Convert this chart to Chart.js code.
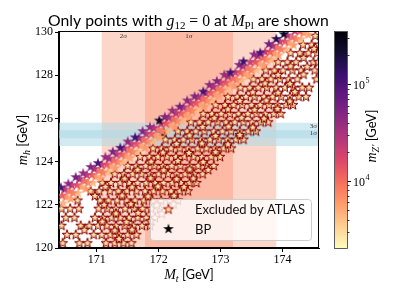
<!DOCTYPE html>
<html><head><meta charset="utf-8">
<script src="https://cdn.jsdelivr.net/npm/chart.js@4"></script>
<style>html,body{margin:0;padding:0;background:#fff;}canvas{display:block}</style>
</head><body>
<canvas id="c" width="399" height="299" style="width:399px;height:299px"></canvas>
<script>
// ---------------- data ----------------
const xTicks = [171, 172, 173, 174];
const yTicks = [120, 122, 124, 126, 128, 130];
const mtRange = [170.39, 174.59];
const mhRange = [120, 130];
const mzRange = [2030, 347000];
const cbMajor = [1e4, 1e5];
const cbMinor = [3e3,4e3,5e3,6e3,7e3,8e3,9e3,2e4,3e4,4e4,5e4,6e4,7e4,8e4,9e4,2e5,3e5];
const mtBand2s = [171.08, 173.90];
const mtBand1s = [171.78, 173.20];
const mhBand3s = [124.72, 125.80];
const mhBand1s = [125.08, 125.46];
const bpMt = [172.08];
const bpMh = [125.31];
const excludedMz = 2800;

// allowed points (coloured by m_Z'), upper strip of the band
const row1Mt = [170.42,170.54,170.66,170.78,170.90,171.02,171.14,171.26,171.38,171.50,171.62,171.74,171.86,172.01,172.10,172.22,172.34,172.46,172.58,172.72,172.82,172.94,173.06,173.16,173.30,173.37,173.54,173.64,173.78,173.90,174.02];
const row1Mh = [122.80,122.98,123.28,123.46,123.75,123.93,124.21,124.46,124.64,124.93,125.12,125.41,125.60,125.90,126.07,126.36,126.54,126.83,127.02,127.24,127.55,127.73,128.02,128.12,128.48,128.64,128.96,129.04,129.44,129.68,129.90];
const row1Mz = [1.0e5,4.5e4,6e4,4e4,5e4,9e4,4e4,5.5e4,1.0e5,4.5e4,1.1e5,5e4,4e4,2.2e5,5e4,4e4,6e4,4.5e4,5e4,1.1e5,4.5e4,5e4,4e4,1.1e5,5e4,1.2e5,4.5e4,1.0e5,6e4,1.6e5,2.4e5];
const row2Mt = [170.48,170.60,170.72,170.84,170.96,171.08,171.20,171.32,171.44,171.56,171.68,171.80,171.92,172.04,172.16,172.28,172.40,172.52,172.64,172.76,172.88,173.00,173.12,173.24,173.36,173.48,173.60,173.72,173.84,173.96,174.08,174.20];
const row2Mh = [122.71,122.90,123.19,123.38,123.66,123.85,124.14,124.33,124.61,124.80,125.09,125.28,125.56,125.75,126.04,126.23,126.51,126.70,126.99,127.18,127.46,127.65,127.94,128.13,128.41,128.60,128.89,129.08,129.36,129.55,129.84,130.05];
const row2Mz = [2.6e4,2.0e4,3.0e4,2.2e4,2.8e4,2.0e4,3.2e4,2.3e4,2.7e4,2.0e4,3.0e4,2.2e4,2.6e4,2.0e4,3.1e4,2.3e4,2.8e4,2.0e4,2.6e4,2.2e4,3.0e4,2.0e4,2.7e4,2.2e4,2.9e4,2.0e4,2.6e4,2.2e4,3.0e4,2.1e4,2.7e4,2.3e4];
const row3Mt = [170.44,170.56,170.68,170.80,170.92,171.04,171.16,171.28,171.40,171.52,171.64,171.76,171.88,172.00,172.12,172.24,172.36,172.48,172.60,172.72,172.84,172.96,173.08,173.20,173.32,173.44,173.56,173.68,173.80,173.92,174.04,174.16,174.28];
const row3Mh = [122.43,122.62,122.91,123.10,123.38,123.57,123.86,124.05,124.33,124.52,124.81,125.00,125.28,125.47,125.76,125.95,126.23,126.42,126.71,126.90,127.18,127.37,127.66,127.85,128.13,128.32,128.61,128.80,129.08,129.27,129.56,129.75,130.03];
const row3Mz = [1.2e4,9e3,1.3e4,1.0e4,1.2e4,9e3,1.3e4,1.0e4,1.2e4,9e3,1.3e4,1.0e4,1.2e4,9e3,1.3e4,1.0e4,1.2e4,9e3,1.3e4,1.0e4,1.2e4,9e3,1.3e4,1.0e4,1.2e4,9e3,1.3e4,1.0e4,1.2e4,9e3,1.3e4,1.0e4,1.2e4];
const row4Mt = [170.50,170.62,170.74,170.86,170.98,171.10,171.22,171.34,171.46,171.58,171.70,171.82,171.94,172.06,172.18,172.30,172.42,172.54,172.66,172.78,172.90,173.02,173.14,173.26,173.38,173.50,173.62,173.74,173.86,173.98,174.10,174.22,174.34];
const row4Mh = [122.35,122.54,122.83,123.02,123.30,123.49,123.78,123.97,124.25,124.44,124.73,124.92,125.20,125.39,125.68,125.87,126.15,126.34,126.63,126.82,127.10,127.29,127.58,127.77,128.05,128.24,128.53,128.72,129.00,129.19,129.48,129.67,129.95];
const row4Mz = [6e3,7.5e3,5.5e3,7e3,6e3,8e3,5.5e3,7e3,6e3,7.5e3,5.5e3,7e3,6e3,8e3,5.5e3,7e3,6e3,7.5e3,5.5e3,7e3,6e3,8e3,5.5e3,7e3,6e3,7.5e3,5.5e3,7e3,6e3,8e3,5.5e3,7e3,6e3];
const row5Mt = [170.46,170.58,170.70,170.82,170.94,171.06,171.18,171.30,171.42,171.54,171.66,171.78,171.90,172.02,172.14,172.26,172.38,172.50,172.62,172.74,172.86,172.98,173.10,173.22,173.34,173.46,173.58,173.70,173.82,173.94,174.06,174.18,174.30,174.42];
const row5Mh = [122.07,122.27,122.54,122.74,123.02,123.22,123.50,123.69,123.97,124.17,124.45,124.64,124.92,125.12,125.40,125.59,125.87,126.07,126.35,126.54,126.82,127.02,127.30,127.49,127.77,127.97,128.25,128.44,128.72,128.92,129.20,129.39,129.67,129.87];
const row5Mz = [4.5e3,5.5e3,4.2e3,6e3,4.5e3,5.5e3,4.2e3,6e3,4.5e3,5.5e3,4.2e3,6e3,4.5e3,5.5e3,4.2e3,6e3,4.5e3,5.5e3,4.2e3,6e3,4.5e3,5.5e3,4.2e3,6e3,4.5e3,5.5e3,4.2e3,6e3,4.5e3,5.5e3,4.2e3,6e3,4.5e3,5.5e3];

// excluded points, listed row by row (m_h of the row, then M_t values)
const excludedRowMh = [120.22,120.61,121.03,121.40,121.82,122.20,122.63,123.01,123.42,123.80,124.22,124.61,125.02,125.40,125.82,126.21,126.62,127.00,127.42,127.81,128.22,128.60,129.02,129.41,129.82];
const excludedRowMt = [
 [170.45,170.72,170.85,171.15,171.29,171.43,171.56],
 [170.52,170.66,170.95,171.08,171.22,171.36,171.50,171.64],
 [170.43,170.74,170.88,171.02,171.16,171.31,171.45,171.59,171.73,171.86],
 [170.50,170.64,170.97,171.10,171.24,171.38,171.52,171.66,171.80,171.94],
 [170.43,170.57,170.71,171.03,171.17,171.31,171.46,171.60,171.74,171.88,172.02,172.15],
 [170.69,171.05,171.19,171.33,171.48,171.62,171.76,171.90,172.04,172.18,172.31],
 [170.90,171.04,171.21,171.35,171.49,171.64,171.78,171.92,172.06,172.20,172.34,172.47],
 [171.09,171.23,171.38,171.52,171.66,171.80,171.94,172.08,172.22,172.36,172.50,172.61],
 [171.29,171.44,171.58,171.72,171.86,172.00,172.15,172.29,172.43,172.57,172.71],
 [171.50,171.64,171.79,171.93,172.07,172.21,172.35,172.50,172.64,172.78,172.89],
 [171.70,171.85,171.99,172.13,172.28,172.42,172.56,172.70,172.85,172.99],
 [171.91,172.05,172.20,172.34,172.48,172.63,172.77,172.91,173.05,173.17],
 [172.11,172.26,172.40,172.54,172.69,172.83,172.97,173.11,173.25,173.37],
 [172.31,172.46,172.60,172.74,172.89,173.03,173.17,173.31,173.45,173.57],
 [172.52,172.66,172.80,172.95,173.09,173.23,173.37,173.51,173.65,173.77],
 [172.72,172.86,173.01,173.15,173.29,173.44,173.58,173.72,173.86,173.97],
 [172.92,173.07,173.21,173.35,173.50,173.64,173.78,173.92,174.06,174.17],
 [173.12,173.27,173.41,173.55,173.70,173.84,173.98,174.12,174.26,174.38],
 [173.32,173.47,173.61,173.75,173.90,174.04,174.18,174.32,174.43],
 [173.53,173.67,173.81,173.96,174.10,174.24,174.55],
 [173.73,173.87,174.01,174.16,174.30,174.52],
 [173.93,174.08,174.22,174.50,174.58],
 [174.13,174.28,174.42,174.56],
 [174.33,174.47,174.59],
 [174.53]
];
// further excluded points lying between the rows above
const excludedExtraMt = [171.36, 170.80,171.29,171.57, 171.09,171.48,171.87, 171.31,171.67,172.05, 171.12,171.55,171.97,172.24, 170.97,171.41,171.83,172.25, 171.14,171.57,171.99,172.41, 171.45,171.87,172.29,172.56, 171.66,172.08,172.50,172.80, 171.88,172.31,172.72, 172.07,172.49,172.92, 172.29,172.70,173.12, 172.50,172.92,173.31, 172.71,173.13,173.52, 172.90,173.34,173.70, 173.12,173.55,173.92, 173.31,173.74,174.12, 173.52,173.93,174.20, 173.72,174.12, 173.93,174.34, 174.13,174.40, 174.34, 174.51];
const excludedExtraMh = [120.42, 120.83,120.81,120.85, 121.22,121.20,121.24, 121.60,121.62,121.58, 122.00,122.03,121.98,122.02, 122.41,122.43,122.39,122.42, 122.83,122.81,122.85,122.82, 123.21,123.23,123.19,123.22, 123.62,123.60,123.64,123.61, 124.00,124.03,123.98, 124.42,124.40,124.44, 124.82,124.84,124.80, 125.21,125.19,125.23, 125.60,125.62,125.58, 126.01,126.03,125.99, 126.42,126.40,126.44, 126.81,126.83,126.79, 127.21,127.19,127.23, 127.62,127.60, 128.01,128.03, 128.41,128.39, 128.80, 129.22];

// ---------------- helpers ----------------
const magmaStops = [[0,0,4],[20,14,54],[59,15,112],[100,26,128],[140,41,129],[183,55,121],[222,73,104],[247,112,92],[254,159,109],[254,207,146],[252,253,191]];
function magma(u){
  u = Math.max(0, Math.min(1, u));
  const f = u*10, i = Math.min(9, Math.floor(f)), t = f - i;
  const a = magmaStops[i], b = magmaStops[i+1];
  return 'rgb(' + [0,1,2].map(k => Math.round(a[k] + (b[k]-a[k])*t)).join(',') + ')';
}
const lmin = Math.log10(mzRange[0]), lmax = Math.log10(mzRange[1]);
function mzColor(m){ return magma(1 - (Math.log10(m) - lmin)/(lmax - lmin)); }

const starCache = {};
function star(r, fill, stroke, lw){
  const key = [r, fill, stroke, lw].join('|');
  if (starCache[key]) return starCache[key];
  const s = Math.ceil(2*r + (lw||0) + 2);
  const c = document.createElement('canvas'); c.width = s; c.height = s;
  const g = c.getContext('2d');
  g.beginPath();
  for (let i = 0; i < 10; i++){
    const rr = (i % 2) ? r*0.381966 : r;
    const a = -Math.PI/2 + i*Math.PI/5;
    g.lineTo(s/2 + rr*Math.cos(a), s/2 + rr*Math.sin(a));
  }
  g.closePath();
  g.fillStyle = fill; g.fill();
  if (lw){ g.lineWidth = lw; g.strokeStyle = stroke; g.lineJoin = 'miter'; g.stroke(); }
  starCache[key] = c;
  return c;
}

const stripRows = [[row5Mt,row5Mh,row5Mz],[row4Mt,row4Mh,row4Mz],[row3Mt,row3Mh,row3Mz],[row2Mt,row2Mh,row2Mz],[row1Mt,row1Mh,row1Mz]];
const allowedData = stripRows.flatMap(([xs, ys, ms]) => xs.map((x, i) => ({x, y: ys[i], mz: ms[i]})));
const excludedData = excludedRowMt.flatMap((row, i) => row.map(x => ({x, y: excludedRowMh[i]})))
  .concat(excludedExtraMt.map((x, i) => ({x, y: excludedExtraMh[i]})));
const bpData = bpMt.map((x, i) => ({x, y: bpMh[i]}));

const exclFill = mzColor(excludedMz);
const exclEdge = '#8b0000';
const SANS = 'Lato';
const SERIF = 'Liberation Serif';

function drawSegs(ctx, segs, x, y, align){
  let w = 0;
  segs.forEach(s => { ctx.font = s.f; w += ctx.measureText(s.t).width; });
  let cx = align === 'center' ? x - w/2 : x;
  segs.forEach(s => {
    ctx.font = s.f; ctx.fillText(s.t, cx, y + (s.dy || 0));
    cx += ctx.measureText(s.t).width;
  });
}
function fitSize(ctx, segsFn, target){
  let w = 0;
  segsFn(15).forEach(s => { ctx.font = s.f; w += ctx.measureText(s.t).width; });
  return 15*target/w;
}

const deco = {
  id: 'deco',
  beforeDatasetsDraw(chart){
    const {ctx, chartArea: a, scales: {x, y}} = chart;
    ctx.save();
    ctx.beginPath(); ctx.rect(a.left, a.top, a.right - a.left, a.bottom - a.top); ctx.clip();
    ctx.fillStyle = 'rgba(250,120,80,0.3)';
    [mtBand2s, mtBand1s].forEach(b => {
      const x0 = x.getPixelForValue(b[0]), x1 = x.getPixelForValue(b[1]);
      ctx.fillRect(x0, a.top, x1 - x0, a.bottom - a.top);
    });
    ctx.fillStyle = 'rgba(173,216,230,0.55)';
    [mhBand3s, mhBand1s].forEach(b => {
      const y0 = y.getPixelForValue(b[1]), y1 = y.getPixelForValue(b[0]);
      ctx.fillRect(a.left, y0, a.right - a.left, y1 - y0);
    });
    ctx.restore();
  },
  afterDatasetsDraw(chart){
    const {ctx, chartArea: a, scales: {x, y, cb}} = chart;
    ctx.save();
    // band labels
    ctx.fillStyle = '#333'; ctx.font = '7px ' + SERIF; ctx.textBaseline = 'middle';
    ctx.textAlign = 'center';
    ctx.fillText('2σ', (x.getPixelForValue(mtBand2s[0]) + x.getPixelForValue(mtBand1s[0]))/2, a.top + 4);
    ctx.fillText('1σ', (x.getPixelForValue(mtBand1s[0]) + x.getPixelForValue(mtBand1s[1]))/2, a.top + 4);
    ctx.textAlign = 'right';
    ctx.fillText('3σ', a.right - 2, y.getPixelForValue(mhBand3s[1]) + 3.5);
    ctx.fillText('1σ', a.right - 2, y.getPixelForValue(mhBand1s[1]) + 3.5);

    // legend
    const lx = 150.5, ly = 199.5, lw = 161, lh = 41;
    ctx.beginPath(); ctx.roundRect(lx, ly, lw, lh, 3);
    ctx.fillStyle = 'rgba(255,255,255,0.8)'; ctx.fill();
    ctx.strokeStyle = '#cccccc'; ctx.lineWidth = 1; ctx.stroke();
    const s1 = star(5.2, exclFill, '#b01a10', 1.0);
    ctx.drawImage(s1, 168.5 - s1.width/2, 209.5 - s1.height/2);
    const s2 = star(5.6, '#000', null, 0);
    ctx.drawImage(s2, 168.5 - s2.width/2, 229 - s2.height/2);
    ctx.fillStyle = '#111'; ctx.textAlign = 'left'; ctx.textBaseline = 'alphabetic';
    ctx.font = '13px ' + SANS;
    const fs = 13*110/ctx.measureText('Excluded by ATLAS').width;
    ctx.font = fs.toFixed(2) + 'px ' + SANS;
    ctx.fillText('Excluded by ATLAS', 195, 214.3);
    ctx.fillText('BP', 195, 234);

    // spines
    ctx.strokeStyle = '#000'; ctx.lineWidth = 1;
    ctx.strokeRect(Math.round(a.left) - 0.5, Math.round(a.top) - 0.5, Math.round(a.right - a.left), Math.round(a.bottom - a.top));

    // colorbar through the hidden log scale
    const cx0 = 335, cw = 12;
    for (let py = Math.floor(cb.top); py < Math.ceil(cb.bottom); py++){
      ctx.fillStyle = mzColor(cb.getValueForPixel(py + 0.5));
      ctx.fillRect(cx0, py, cw, 1);
    }
    ctx.strokeStyle = '#333'; ctx.lineWidth = 0.8;
    ctx.strokeRect(cx0 - 0.5, cb.top - 0.5, cw + 1, cb.bottom - cb.top + 1);
    ctx.strokeStyle = '#000'; ctx.lineWidth = 0.8;
    cbMinor.forEach(v => { const py = Math.round(cb.getPixelForValue(v)) + 0.5; ctx.beginPath(); ctx.moveTo(cx0 + cw + 0.5, py); ctx.lineTo(cx0 + cw + 2.5, py); ctx.stroke(); });
    ctx.lineWidth = 1;
    cbMajor.forEach(v => {
      const py = Math.round(cb.getPixelForValue(v)) + 0.5;
      ctx.beginPath(); ctx.moveTo(cx0 + cw + 0.5, py); ctx.lineTo(cx0 + cw + 4, py); ctx.stroke();
      ctx.fillStyle = '#000'; ctx.textAlign = 'left'; ctx.textBaseline = 'middle';
      ctx.font = '12px ' + SERIF; ctx.fillText('10', 353, py + 1);
      const w10 = ctx.measureText('10').width;
      ctx.font = '8px ' + SERIF; ctx.fillText(String(Math.round(Math.log10(v))), 353 + w10 + 0.5, py - 4);
    });

    // axis titles
    ctx.fillStyle = '#000'; ctx.textBaseline = 'alphabetic';
    const lab = (main, sub) => [
      {t: main, f: 'italic 14px ' + SERIF},
      {t: sub, f: 'italic 10px ' + SERIF, dy: 2.5},
      {t: ' [GeV]', f: '13px ' + SANS}
    ];
    drawSegs(ctx, lab('M', 't'), (a.left + a.right)/2, 279, 'center');
    ctx.save(); ctx.translate(27, (a.top + a.bottom)/2); ctx.rotate(-Math.PI/2);
    drawSegs(ctx, lab('m', 'h'), 0, 0, 'center'); ctx.restore();
    ctx.save(); ctx.translate(376, 136); ctx.rotate(-Math.PI/2);
    drawSegs(ctx, lab('m', "Z'"), 0, 0, 'center'); ctx.restore();

    // title
    const titleSegs = s => [
      {t: 'Only points with ', f: s + 'px ' + SANS},
      {t: 'g', f: 'italic ' + s + 'px ' + SERIF},
      {t: '12', f: (s*0.7) + 'px ' + SERIF, dy: s*0.2},
      {t: ' = 0 ', f: s + 'px ' + SERIF},
      {t: 'at ', f: s + 'px ' + SANS},
      {t: 'M', f: 'italic ' + s + 'px ' + SERIF},
      {t: 'Pl', f: (s*0.7) + 'px ' + SERIF, dy: s*0.2},
      {t: ' are shown', f: s + 'px ' + SANS}
    ];
    const ts = fitSize(ctx, titleSegs, 281);
    drawSegs(ctx, titleSegs(ts), 188.5, 26, 'center');
    ctx.restore();
  }
};

const tickFont = {family: SERIF, size: 12};
new Chart(document.getElementById('c'), {
  type: 'scatter',
  data: {datasets: [
    {label: 'allowed', data: allowedData, yAxisID: 'y', clip: 0, pointRadius: 5,
     pointStyle: ctx => star(5.6, mzColor(ctx.raw && ctx.raw.mz ? ctx.raw.mz : 3e4), null, 0)},
    {label: 'Excluded by ATLAS', data: excludedData, yAxisID: 'y', clip: 0, pointRadius: 5,
     pointStyle: star(5.2, exclFill, exclEdge, 1.0)},
    {label: 'BP', data: bpData, yAxisID: 'y', clip: 0, pointRadius: 6,
     pointStyle: star(6.6, '#000', null, 0)}
  ]},
  options: {
    responsive: false, animation: false, events: [],
    layout: {padding: {left: 0, top: 32, right: 80, bottom: 0}},
    plugins: {legend: {display: false}, tooltip: {enabled: false}},
    scales: {
      x: {type: 'linear', min: mtRange[0], max: mtRange[1],
          afterFit(s){ s.height = 51; },
          afterBuildTicks(s){ s.ticks = xTicks.map(v => ({value: v})); },
          ticks: {font: tickFont, color: '#000', padding: 1, maxRotation: 0, autoSkip: false, includeBounds: false, callback: v => String(v)},
          grid: {drawOnChartArea: false, drawTicks: true, tickLength: 4, color: '#000'},
          border: {display: true, color: '#000', width: 1}},
      y: {type: 'linear', min: mhRange[0], max: mhRange[1],
          afterFit(s){ s.width = 59; },
          afterBuildTicks(s){ s.ticks = yTicks.map(v => ({value: v})); },
          ticks: {font: tickFont, color: '#000', padding: 2, autoSkip: false, includeBounds: false, callback: v => String(v)},
          grid: {drawOnChartArea: false, drawTicks: true, tickLength: 4, color: '#000'},
          border: {display: true, color: '#000', width: 1}},
      cb: {type: 'logarithmic', axis: 'y', display: false, min: mzRange[0], max: mzRange[1]}
    }
  },
  plugins: [deco]
});
</script>
</body></html>
